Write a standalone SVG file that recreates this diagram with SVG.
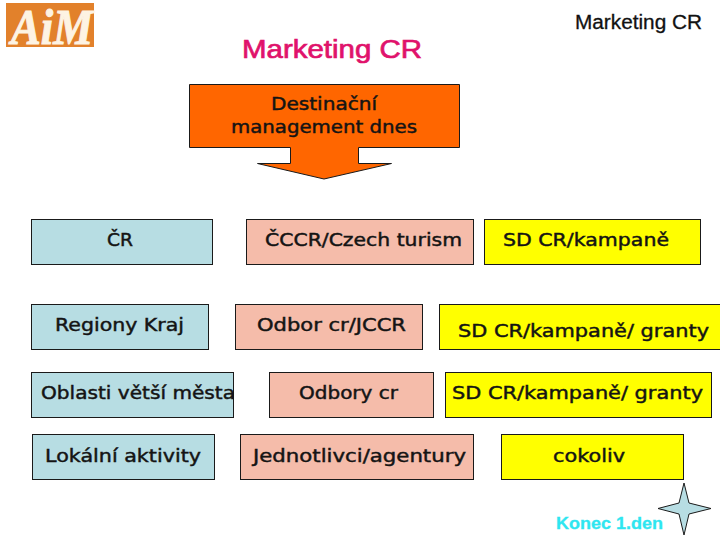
<svg xmlns="http://www.w3.org/2000/svg" width="720" height="540" viewBox="0 0 720 540">
<style>
.b{stroke:#1a1a1a;stroke-width:1}
.t{font-family:"DejaVu Sans",Verdana,sans-serif;font-size:17.500px;fill:#141414;text-anchor:middle;stroke:#141414;stroke-width:.45px}
.blue{fill:#b7dde3}.pink{fill:#f5bcaa}.yel{fill:#ffff00}
.h{font-family:"Liberation Sans",Arial,sans-serif}
</style>
<rect width="720" height="540" fill="#fff"/>
<g id="logo">
<rect x="6" y="3" width="88" height="44" fill="#e2812b"/>
<text x="52" y="44" font-family="Liberation Serif,serif" font-style="italic" font-weight="bold" font-size="50" fill="#fdf3e3" stroke="#fdf3e3" stroke-width="1" text-anchor="middle" textLength="82" lengthAdjust="spacingAndGlyphs">AiM</text>
</g>
<text x="702" y="29" class="h" font-size="20" fill="#111" stroke="#111" stroke-width=".3" text-anchor="end" textLength="127" lengthAdjust="spacingAndGlyphs">Marketing CR</text>
<text x="332" y="58" class="h" font-size="26" fill="#e0126b" stroke="#e0126b" stroke-width=".7" text-anchor="middle" textLength="180" lengthAdjust="spacingAndGlyphs">Marketing CR</text>
<g id="callout">
<path class="b" fill="#ff6600" d="M189.500 84.500H459.500V147.500H358.500V163.500H391.500L324 179L257.500 163.500H290.500V147.500H189.500Z"/>
<text class="t" x="324" y="109.500" textLength="106" lengthAdjust="spacingAndGlyphs">Destinační</text>
<text class="t" x="324" y="132.500" textLength="186" lengthAdjust="spacingAndGlyphs">management dnes</text>
</g>
<g id="n1"><rect class="b blue" x="31.500" y="219.500" width="181" height="45"/><text class="t" x="120" y="246" textLength="26" lengthAdjust="spacingAndGlyphs">ČR</text></g>
<g id="n2"><rect class="b pink" x="246.500" y="219.500" width="227" height="45"/><text class="t" x="363.500" y="246" textLength="197" lengthAdjust="spacingAndGlyphs">ČCCR/Czech turism</text></g>
<g id="n3"><rect class="b yel" x="484.500" y="219.500" width="216" height="45"/><text class="t" x="586" y="246" textLength="166" lengthAdjust="spacingAndGlyphs">SD CR/kampaně</text></g>
<g id="n4"><rect class="b blue" x="31.500" y="304.500" width="177" height="45"/><text class="t" x="119.500" y="331" textLength="129" lengthAdjust="spacingAndGlyphs">Regiony Kraj</text></g>
<g id="n5"><rect class="b pink" x="235.500" y="304.500" width="187" height="45"/><text class="t" x="331.500" y="331" textLength="149" lengthAdjust="spacingAndGlyphs">Odbor cr/JCCR</text></g>
<g id="n6"><rect class="b yel" x="439.500" y="304.500" width="290" height="45"/><text class="t" x="583.500" y="337" textLength="251" lengthAdjust="spacingAndGlyphs">SD CR/kampaně/ granty</text></g>
<g id="n7"><rect class="b blue" x="31.500" y="372.500" width="202" height="45"/><text class="t" x="138" y="399" textLength="194" lengthAdjust="spacingAndGlyphs">Oblasti větší města</text></g>
<g id="n8"><rect class="b pink" x="269.500" y="372.500" width="164" height="45"/><text class="t" x="348.500" y="399" textLength="99" lengthAdjust="spacingAndGlyphs">Odbory cr</text></g>
<g id="n9"><rect class="b yel" x="445.500" y="372.500" width="266" height="45"/><text class="t" x="577.500" y="399" textLength="251" lengthAdjust="spacingAndGlyphs">SD CR/kampaně/ granty</text></g>
<g id="n10"><rect class="b blue" x="32.500" y="434.500" width="182" height="45"/><text class="t" x="123" y="462" textLength="156" lengthAdjust="spacingAndGlyphs">Lokální aktivity</text></g>
<g id="n11"><rect class="b pink" x="240.500" y="434.500" width="233" height="45"/><text class="t" x="359.500" y="462" textLength="213" lengthAdjust="spacingAndGlyphs">Jednotlivci/agentury</text></g>
<g id="n12"><rect class="b yel" x="501.500" y="434.500" width="182" height="45"/><text class="t" x="589" y="462" textLength="72" lengthAdjust="spacingAndGlyphs">cokoliv</text></g>
<g id="star"><path class="b" fill="#b7dde3" d="M684 483L689 503L711 508.500L689 514L684 535L679 514L658 508.500L679 503Z"/></g>
<text x="609.500" y="529" class="h" font-size="17" font-weight="bold" fill="#2ee6f0" stroke="#2ee6f0" stroke-width=".3" text-anchor="middle" textLength="107" lengthAdjust="spacingAndGlyphs">Konec 1.den</text>
</svg>
